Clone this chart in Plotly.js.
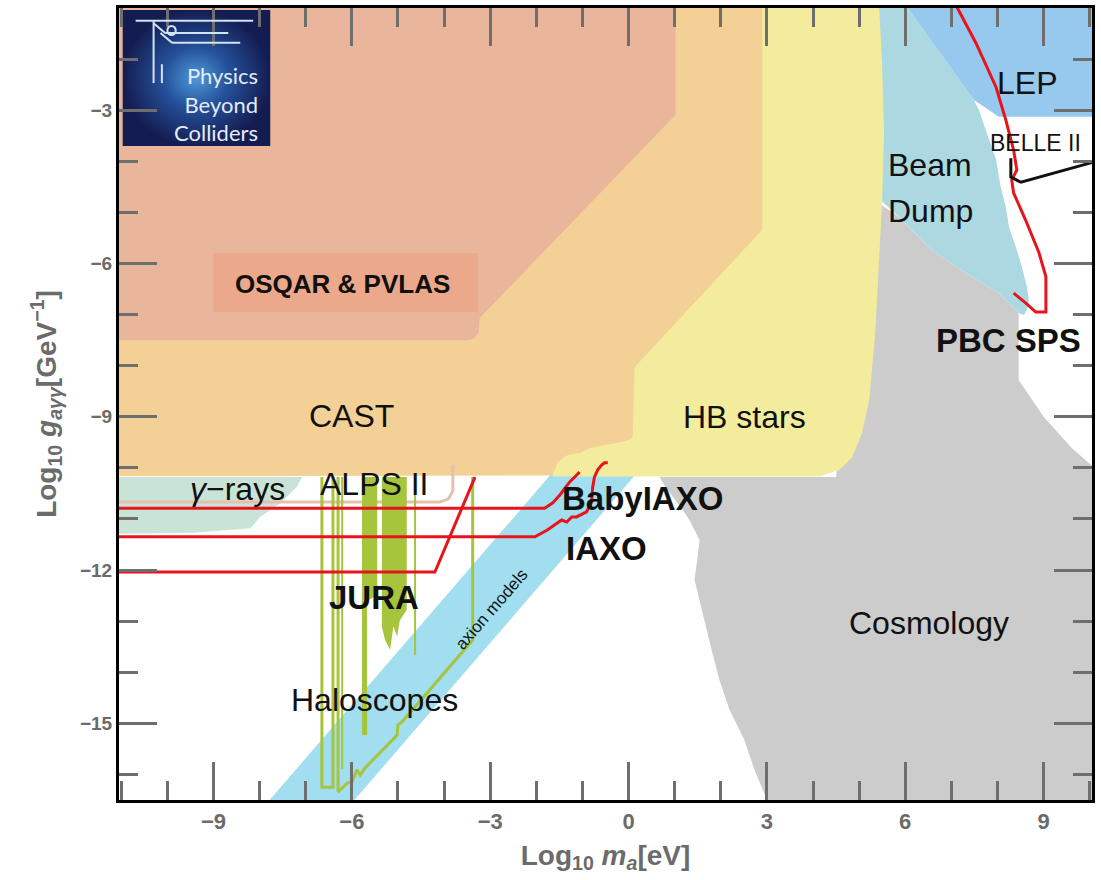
<!DOCTYPE html>
<html><head><meta charset="utf-8">
<script src="https://cdn.plot.ly/plotly-3.0.1.min.js"></script>
<style>html,body{margin:0;padding:0;background:#fff}</style>
</head><body>
<div id="chart" style="width:1101px;height:880px"></div>
<script>
// ---- exclusion / sensitivity regions (log10 m_a [eV], log10 g [GeV^-1]) ----
const cosmoX = [5.0, 5.87, 6.58, 7.32, 8.03, 8.46, 8.46, 9.0, 9.6, 10.1, 10.1, 3.05, 2.73, 2.51, 2.19, 1.97, 1.80, 1.65, 1.54, 1.43, 1.49, 1.54, 1.32, 1.10, 0.84, 0.67, 4.5];
const cosmoY = [-4.56, -5.09, -5.74, -6.19, -6.58, -6.97, -8.28, -9.0, -9.6, -10.0, -16.6, -16.6, -15.91, -15.32, -14.74, -14.15, -13.56, -12.98, -12.59, -12.19, -11.80, -11.41, -11.02, -10.73, -10.43, -10.18, -10.18];

const beamDumpX = [5.22, 5.97, 7.49, 7.60, 7.77, 7.97, 8.07, 8.18, 8.25, 8.40, 8.53, 8.64, 8.68, 8.64, 8.57, 8.46, 8.03, 7.32, 6.58, 5.87, 5.22];
const beamDumpY = [-0.9, -0.9, -2.80, -3.00, -3.45, -3.97, -4.50, -4.89, -5.29, -5.68, -6.07, -6.46, -6.71, -6.91, -7.01, -6.97, -6.58, -6.19, -5.74, -5.09, -4.56];

const lepX = [5.97, 10.1, 10.1, 8.03, 7.49];
const lepY = [-0.9, -0.9, -3.13, -3.13, -2.80];

const axionBandX = [-7.88, -6.04, 0.28, -1.56];
const axionBandY = [-16.6, -16.6, -10.0, -10.0];

const hbX = [0.5, 5.43, 5.50, 5.54, 5.50, 5.43, 5.35, 5.22, 5.06, 4.85, 4.57, 4.13, -1.65, -1.65];
const hbY = [-0.9, -0.9, -2.15, -3.45, -4.76, -6.07, -7.36, -8.67, -9.32, -9.79, -10.04, -10.17, -10.17, -9.0];

const castX = [-11.1, 2.90, 2.90, 0.13, 0.09, 0.02, -0.13, -0.48, -0.84, -1.06, -1.32, -1.43, -1.54, -1.65, -11.1];
const castY = [-0.9, -0.9, -5.34, -8.03, -9.40, -9.45, -9.49, -9.55, -9.61, -9.71, -9.75, -9.81, -9.90, -10.15, -10.16];

const osqarX = [-11.1, 1.02, 1.02, -3.23, -3.25, -3.35, -3.5, -11.1];
const osqarY = [-0.9, -0.9, -3.09, -7.07, -7.35, -7.47, -7.5, -7.5];

const osqarBoxX = [-9.0, -3.27, -3.27, -9.0];
const osqarBoxY = [-5.8, -5.8, -6.95, -6.95];

const gammaX = [-11.1, -7.08, -7.19, -7.55, -7.99, -8.20, -9.44, -11.1];
const gammaY = [-10.18, -10.18, -10.37, -10.69, -10.96, -11.18, -11.27, -11.29];

// haloscopes
const haloUX = [-6.65, -6.65, -6.41, -6.41];
const haloUY = [-10.18, -16.25, -16.25, -10.18];
const haloEnvX = [-6.30, -6.30, -6.10, -6.00, -5.89, -5.82, -5.71, -5.11, -5.02, -5.00, -4.91, -3.81, -3.38, -3.38];
const haloEnvY = [-10.18, -16.34, -16.17, -16.15, -15.91, -16.01, -15.87, -15.32, -15.23, -15.03, -14.97, -13.82, -13.37, -10.18];
const haloLineX = [-6.21, -6.21];
const haloLineY = [-10.18, -15.9];
const haloThinX = [-4.63, -4.63];
const haloThinY = [-10.18, -13.66];
const haloBar1X = [-5.78, -5.45, -5.45, -5.67, -5.67, -5.78];
const haloBar1Y = [-10.18, -10.18, -12.5, -12.6, -15.23, -15.23];
const haloBar2X = [-5.35, -4.81, -4.81, -4.96, -5.02, -5.10, -5.17, -5.28, -5.35];
const haloBar2Y = [-10.18, -10.18, -12.78, -12.98, -13.30, -13.10, -13.56, -13.37, -13.11];

const alpsX = [-11.1, -4.09, -3.90, -3.81, -3.81];
const alpsY = [-10.67, -10.67, -10.60, -10.45, -9.94];

// projected sensitivities
const juraX = [-11.1, -4.20, -3.33];
const juraY = [-12.04, -12.04, -10.18];
const babyIaxoX = [-11.1, -1.82, -1.65, -1.49, -1.28, -1.06];
const babyIaxoY = [-10.79, -10.79, -10.69, -10.53, -10.28, -10.08];
const iaxoX = [-11.1, -2.03, -1.77, -1.56, -1.45, -1.34, -1.23, -1.13, -0.91, -0.80, -0.78, -0.74, -0.67, -0.58, -0.52, -0.45];
const iaxoY = [-11.35, -11.35, -11.22, -11.08, -11.02, -11.06, -10.96, -10.96, -10.86, -10.67, -10.39, -10.18, -10.04, -9.94, -9.90, -9.90];
const pbcSpsX = [7.12, 7.53, 7.97, 8.18, 8.35, 8.42, 8.31, 8.35, 8.61, 8.90, 9.05, 9.05, 8.83, 8.61, 8.35];
const pbcSpsY = [-0.98, -1.68, -2.55, -3.19, -3.78, -4.17, -4.37, -4.62, -5.15, -5.79, -6.26, -6.95, -6.95, -6.77, -6.58];
const belleX = [8.29, 8.29, 8.51, 10.1];
const belleY = [-3.94, -4.31, -4.41, -4.01];

// logo box
const logoX = [-10.97, -7.77, -7.77, -10.97];
const logoY = [-1.04, -1.04, -3.70, -3.70];

// labels
const labelText = ['LEP', 'BELLE II', 'Beam', 'Dump', '<b>PBC SPS</b>', 'HB stars', 'CAST', 'Cosmology', 'Haloscopes', 'ALPS II', '<i>γ</i>−rays', '<b>JURA</b>', '<b>BabyIAXO</b>', '<b>IAXO</b>', '<b>OSQAR &amp; PVLAS</b>'];
const labelX = [8.65, 8.83, 6.54, 6.54, 8.23, 2.51, -6.0, 6.52, -5.52, -5.52, -8.48, -5.52, 0.30, -0.48, -6.21];
const labelY = [-2.47, -3.64, -4.07, -4.98, -7.50, -9.0, -8.98, -13.04, -14.54, -10.32, -10.41, -12.53, -10.59, -11.57, -6.40];
const labelSize = [32, 23, 32, 32, 33, 32, 32, 32, 32, 32, 32, 33, 33, 33, 26];

const RED = '#e8141b';
const GREEN = '#a6c43c';

function area(x, y, color) {
  return {x: x, y: y, type: 'scatter', mode: 'lines', fill: 'toself', fillcolor: color,
          line: {width: 0, color: color}, hoverinfo: 'skip', showlegend: false};
}
function line(x, y, color, w) {
  return {x: x, y: y, type: 'scatter', mode: 'lines', line: {width: w, color: color},
          hoverinfo: 'skip', showlegend: false};
}

const data = [
  area(cosmoX, cosmoY, '#cccccc'),
  area(beamDumpX, beamDumpY, '#acd8e1'),
  area(lepX, lepY, '#97c8ee'),
  area(axionBandX, axionBandY, '#a0def0'),
  area(hbX, hbY, '#f3ec9d'),
  area(castX, castY, '#f2d096'),
  area(osqarX, osqarY, '#e9b69c'),
  area(osqarBoxX, osqarBoxY, '#eba88a'),
  area(gammaX, gammaY, '#c9e4d6'),
  line(alpsX, alpsY, '#e6bfae', 3),
  area(haloBar1X, haloBar1Y, GREEN),
  area(haloBar2X, haloBar2Y, GREEN),
  line(haloUX, haloUY, GREEN, 3),
  line(haloEnvX, haloEnvY, GREEN, 3),
  line(haloLineX, haloLineY, GREEN, 2),
  line(haloThinX, haloThinY, GREEN, 2),
  line(juraX, juraY, RED, 3),
  line(babyIaxoX, babyIaxoY, RED, 3),
  line(iaxoX, iaxoY, RED, 3),
  line(pbcSpsX, pbcSpsY, RED, 3),
  line(belleX, belleY, '#111111', 3),
  {x: logoX, y: logoY, type: 'scatter', mode: 'lines', fill: 'toself', fillcolor: '#1d2f70',
   fillgradient: {type: 'radial', colorscale: [[0, '#4f9ad8'], [0.45, '#25509a'], [1, '#141d52']]},
   line: {width: 0}, hoverinfo: 'skip', showlegend: false}
];

const annotations = labelText.map((t, i) => ({
  x: labelX[i], y: labelY[i], xref: 'x', yref: 'y', text: t, showarrow: false,
  font: {family: 'Liberation Sans, Arial, sans-serif', size: labelSize[i], color: '#111111'}
}));
annotations.push({x: -2.97, y: -12.78, xref: 'x', yref: 'y', text: 'axion models', showarrow: false,
  textangle: -49, font: {family: 'Liberation Sans, Arial, sans-serif', size: 17, color: '#111111'}});
// logo text (right aligned block)
annotations.push({x: -7.99, y: -2.88, xref: 'x', yref: 'y', xanchor: 'right', yanchor: 'middle', align: 'right',
  text: 'Physics<br>Beyond<br>Colliders', showarrow: false,
  font: {family: 'Lato, Open Sans, sans-serif', size: 22, color: '#e4ecf7'}});

const logoLine = {color: '#cfe4f4', width: 2};
const shapes = [
  {type: 'line', xref: 'x', yref: 'y', x0: -10.69, x1: -8.14, y0: -1.25, y1: -1.25, line: logoLine},
  {type: 'line', xref: 'x', yref: 'y', x0: -10.30, x1: -10.30, y0: -1.25, y1: -2.47, line: logoLine},
  {type: 'line', xref: 'x', yref: 'y', x0: -10.05, x1: -8.68, y0: -1.49, y1: -1.49, line: logoLine},
  {type: 'line', xref: 'x', yref: 'y', x0: -9.90, x1: -8.42, y0: -1.68, y1: -1.68, line: logoLine},
  {type: 'line', xref: 'x', yref: 'y', x0: -10.30, x1: -10.05, y0: -1.30, y1: -1.49, line: logoLine},
  {type: 'line', xref: 'x', yref: 'y', x0: -10.15, x1: -9.90, y0: -1.49, y1: -1.68, line: logoLine},
  {type: 'line', xref: 'x', yref: 'y', x0: -10.12, x1: -10.12, y0: -2.10, y1: -2.47, line: logoLine},
  {type: 'circle', xref: 'x', yref: 'y', x0: -10.0, x1: -9.82, y0: -1.35, y1: -1.53, line: logoLine}
];

const tickFont = {family: 'Liberation Sans, Arial, sans-serif', size: 19, color: '#6b6b6b', weight: 'bold'};
const axisCommon = {
  showgrid: false, zeroline: false, showline: true, linecolor: '#000', linewidth: 3,
  mirror: 'allticks', ticks: 'inside', tickcolor: '#6e6e6e', tickwidth: 3, ticklen: 38,
  tickmode: 'linear', tick0: 0, dtick: 3,
  minor: {ticks: 'inside', tickmode: 'linear', tick0: 0, dtick: 1, ticklen: 19, tickwidth: 3, tickcolor: '#6e6e6e'},
  tickfont: tickFont
};

const layout = {
  width: 1101, height: 880,
  margin: {l: 119, r: 9, t: 8, b: 80},
  paper_bgcolor: '#ffffff', plot_bgcolor: '#ffffff',
  showlegend: false, hovermode: false,
  xaxis: Object.assign({}, axisCommon, {
    range: [-11.05, 10.05],
    tickfont: {family: 'Liberation Sans Narrow, Arial Narrow, Liberation Sans, sans-serif', size: 22, color: '#6b6b6b', weight: 'bold'},
    title: {text: 'Log<sub>10</sub> <i>m</i><sub><i>a</i></sub>[eV]', standoff: 12,
            font: {family: 'Liberation Sans Narrow, Arial Narrow, Liberation Sans, sans-serif', size: 28, color: '#6b6b6b', weight: 'bold'}}
  }),
  yaxis: Object.assign({}, axisCommon, {
    range: [-16.5, -1],
    title: {text: 'Log<sub>10</sub> <i>g</i><sub><i>aγγ</i></sub>[GeV<sup>−1</sup>]', standoff: 16,
            font: {family: 'Liberation Sans, Arial, sans-serif', size: 28, color: '#6b6b6b', weight: 'bold'}}
  }),
  annotations: annotations,
  shapes: shapes
};

Plotly.newPlot('chart', data, layout, {displayModeBar: false, staticPlot: true});
</script>
</body></html>
